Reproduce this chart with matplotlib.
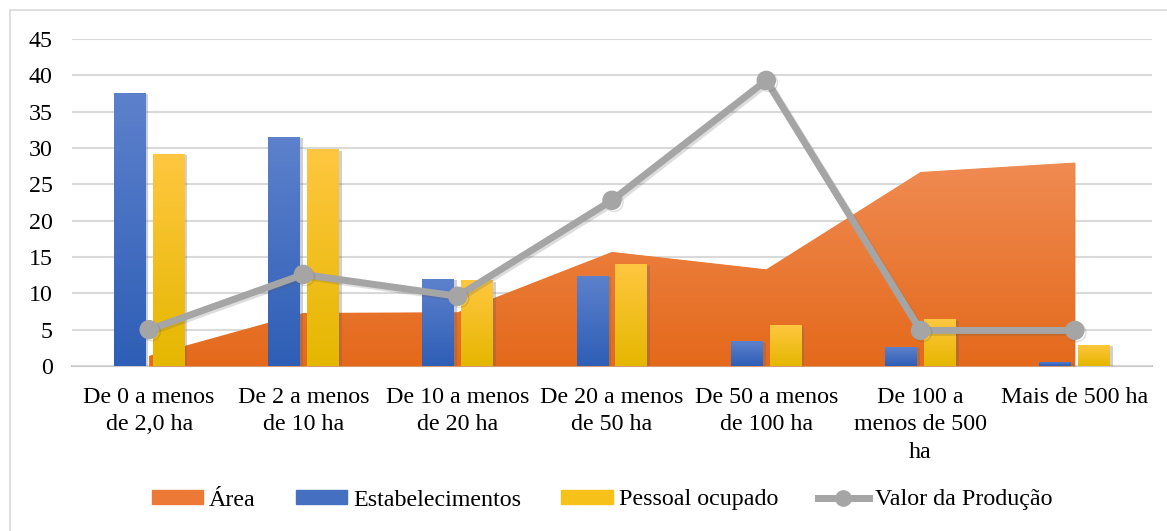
import numpy as np
import matplotlib
matplotlib.use("Agg")
import matplotlib.pyplot as plt
from matplotlib.colors import LinearSegmentedColormap
from matplotlib.patches import Patch, Rectangle
from matplotlib.lines import Line2D
import matplotlib.patheffects as pe

categorias = ["De 0 a menos\nde 2,0 ha", "De 2 a menos\nde 10 ha", "De 10 a menos\nde 20 ha",
              "De 20 a menos\nde 50 ha", "De 50 a menos\nde 100 ha", "De 100 a\nmenos de 500\nha",
              "Mais de 500 ha"]
area = [1.4, 7.3, 7.4, 15.7, 13.3, 26.7, 28.0]
estabelecimentos = [37.6, 31.5, 12.0, 12.4, 3.4, 2.6, 0.6]
pessoal = [29.2, 29.8, 11.8, 14.0, 5.6, 6.4, 2.9]
valor = [5.0, 12.6, 9.6, 22.8, 39.3, 4.9, 4.9]
yticks = [0, 5, 10, 15, 20, 25, 30, 35, 40, 45]

plt.rcParams['font.family'] = ['Liberation Serif', 'DejaVu Serif']
fs = 17.3

laranja = ("#e4691b", "#f08b52")
azul = ("#2e5eb6", "#5d81cc")
amarelo = ("#e5b700", "#ffc740")
cinza = "#a5a5a5"


def gradiente(ax, clip, cores, x0, x1, y0, y1, z, transform=None):
    cmap = LinearSegmentedColormap.from_list("g", list(cores))
    im = ax.imshow(np.linspace(0, 1, 256).reshape(-1, 1), cmap=cmap, origin="lower",
                   extent=[x0, x1, y0, y1], aspect="auto", zorder=z, interpolation="bilinear")
    if transform is None:
        im.set_clip_path(clip)
    else:
        im.set_clip_path(clip, transform)


fig = plt.figure(figsize=(11.67, 5.31), dpi=100)
ax = fig.add_axes([72 / 1167, 1 - 366 / 531, 1080 / 1167, 327 / 531])

x = np.arange(len(categorias))

# area
poly = ax.fill_between(x, 0, area, color=laranja[0], linewidth=0, zorder=1)
gradiente(ax, poly.get_paths()[0], laranja, x[0], x[-1], 0, max(area), 1.1, ax.transData)

# barras
w = 0.207
off = 0.126
sombra = [pe.SimplePatchShadow(offset=(2, -1), alpha=0.3, shadow_rgbFace="#666666"), pe.Normal()]
for vals, cores, dx in [(estabelecimentos, azul, -off), (pessoal, amarelo, off)]:
    bars = ax.bar(x + dx, vals, width=w, color=cores[0], zorder=2, linewidth=0)
    for b in bars:
        b.set_path_effects(sombra)
        gradiente(ax, b, cores, b.get_x(), b.get_x() + b.get_width(), 0, b.get_height(), 2.1)

# linha
ax.plot(x, valor, color=cinza, linewidth=5, marker="o", markersize=13, zorder=3,
        path_effects=[pe.SimpleLineShadow(offset=(1.5, -1.5), alpha=0.2, shadow_color="#555555"), pe.Normal()])

ax.set_xlim(-0.5, len(categorias) - 0.5)
ax.set_ylim(0, 45)
ax.set_yticks(yticks)
ax.set_xticks(x)
ax.set_xticklabels(categorias, fontsize=fs, linespacing=1.4)
ax.tick_params(axis="y", length=0, pad=14, labelsize=fs)
ax.tick_params(axis="x", length=0, pad=15)
ax.grid(axis="y", color="#d9d9d9", linewidth=1.5, zorder=0)
ax.set_axisbelow(True)
for s in ["top", "right", "left"]:
    ax.spines[s].set_visible(False)
ax.spines["bottom"].set_color("#c8c8c8")
ax.spines["bottom"].set_linewidth(1.5)
ax.spines["bottom"].set_zorder(0.5)

handles = [Patch(color="#ec7a36"), Patch(color="#4570c1"), Patch(color="#f6c21a"),
           Line2D([], [], color=cinza, linewidth=5, marker="o", markersize=11)]
nomes = ["Área", "Estabelecimentos", "Pessoal ocupado", "Valor da Produção"]
fig.legend(handles, nomes, loc="center", bbox_to_anchor=(0.516, 1 - 500 / 531), ncol=4,
           frameon=False, fontsize=fs, handlelength=2.15, handleheight=0.55,
           handletextpad=0.25, columnspacing=1.65, borderpad=0)

fig.add_artist(Rectangle((10 / 1167, -0.1), 1.2, 1.1 - 10 / 531, transform=fig.transFigure,
                         fill=False, edgecolor="#d9d9d9", linewidth=1.2))

fig.savefig("out.png", dpi=100)
